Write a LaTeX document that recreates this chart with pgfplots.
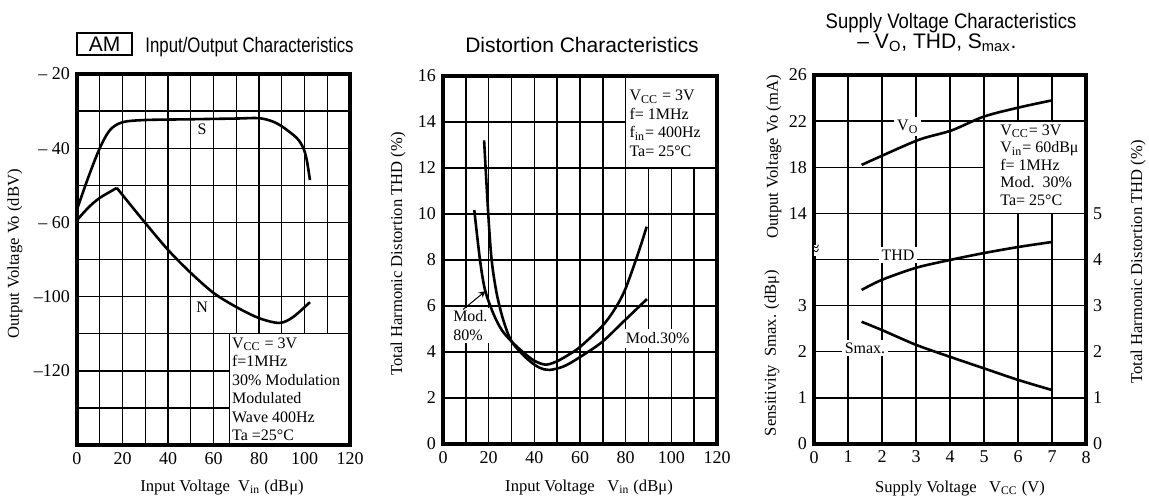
\documentclass[border=0pt]{standalone}
\usepackage{fontspec}
\setmainfont{Liberation Serif}
\setsansfont{Liberation Sans}
\newfontfamily\titlefont[FakeStretch=0.8]{Liberation Sans}
\usepackage{pgfplots}
\pgfplotsset{compat=1.18}

\newcommand\ann{\fontsize{8}{9.25}\selectfont}
\newcommand\lab{\fontsize{8.3}{10}\selectfont}

\pgfplotsset{
  chart/.style={
    scale only axis, anchor=south west,
    grid=major,
    grid style={black, line width=0.7pt},
    axis line style={line width=2pt},
    major tick length=0pt,
    /pgf/number format/assume math mode=true,
    ticklabel style={font=\fontsize{9}{10}\selectfont},
  },
  curve/.style={black, line width=1.3pt, smooth, no markers},
}

\begin{document}
\begin{tikzpicture}
\path[use as bounding box] (0,0) rectangle (574.5pt,-249pt);

% ---------- panel 1: AM input/output
\begin{axis}[chart,
  at={(38.5pt,-222.5pt)}, width=136.5pt, height=185.5pt,
  xmin=0, xmax=120, ymin=-120, ymax=-20,
  xtick={0,10,...,120},
  xticklabels={0,,20,,40,,60,,80,,100,,120},
  ytick={-120,-110,...,-20},
  yticklabels={{},{},{\textendash120},{},{\textendash100},{},{\textendash\ 60},{},{\textendash\ 40},{},{\textendash\ 20}},
]
\addplot[curve] coordinates {
  (0,-56.5) (5,-47.8) (10,-40) (14.5,-35.1) (20,-33) (30,-32.4)
  (50,-32.2) (70,-32) (80,-31.9) (86,-32.8) (90.5,-34.3)
  (96.7,-37.3) (99.5,-40) (101,-43.2) (102.4,-48.6)
};
\addplot[curve] coordinates {
  (0,-59.4) (5,-56) (10,-53.4) (17.5,-50.7)
};
\addplot[curve] coordinates {
  (17.5,-50.7) (29,-59.4) (40,-67.4) (50,-73.6) (60,-79)
  (70,-82.8) (80,-85.8) (89,-87.1) (95,-85.5) (102.4,-81.5)
};
\node[font=\ann] at (axis cs:55,-35) {S};
\node[font=\ann] at (axis cs:55,-82.8) {N};
\draw[fill=white, line width=0.6pt] (axis cs:67,-120) rectangle (axis cs:120,-90);
\node[anchor=north west, align=left, inner sep=0pt, font=\ann] at (axis cs:68,-90.9)
  {V\textsubscript{CC} = 3V\\ f=1MHz\\ 30\% Modulation\\ Modulated\\ Wave 400Hz\\ Ta =25°C};
\draw[line width=2pt] (rel axis cs:0,0) rectangle (rel axis cs:1,1);
\end{axis}

% ---------- panel 2: distortion
\begin{axis}[chart,
  at={(221.5pt,-222pt)}, width=137pt, height=184pt,
  xmin=0, xmax=120, ymin=0, ymax=16,
  xtick={0,10,...,120},
  xticklabels={0,,20,,40,,60,,80,,100,,120},
  ytick={0,2,...,16},
]
% Mod. 80%
\addplot[curve] coordinates {
  (13.7,10.17) (16.2,8.0) (18.4,6.7) (22,5.68) (25.7,4.96) (30.1,4.45)
  (35,4.0) (40,3.62) (45,3.45) (50,3.6) (55,3.88) (60,4.22)
  (69.5,5.1) (75,5.83) (79.7,6.7) (85.5,8.3) (89.2,9.45)
};
% Mod. 30%
\addplot[curve] coordinates {
  (18,13.2) (19.8,10.03) (21.3,8.0) (23.5,6.55) (26.4,5.39) (30.1,4.45)
  (36.7,3.72) (42,3.33) (46.5,3.22) (53,3.38) (60,3.78) (69.6,4.43) (78.8,5.3) (89.3,6.3)
};
\draw[fill=white, line width=0.6pt] (axis cs:80,12) rectangle (axis cs:120,16);
\node[anchor=north west, align=left, inner sep=0pt, font=\ann] at (axis cs:81.5,15.4)
  {V\textsubscript{CC} = 3V\\ f= 1MHz\\ f\textsubscript{in}= 400Hz\\ Ta= 25°C};
\node[fill=white, align=left, inner sep=1.5pt, font=\ann, anchor=north west] at (axis cs:3,5.95)
  {Mod.\\ 80\%};
\draw[-stealth, line width=0.5pt] (axis cs:8.8,5.85) -- (axis cs:18.6,6.65);
\node[fill=white, inner sep=2pt, font=\ann] at (axis cs:94,4.6) {Mod.30\%};
\draw[line width=2pt] (rel axis cs:0,0) rectangle (rel axis cs:1,1);
\end{axis}

% ---------- panel 3: supply voltage
\begin{axis}[chart,
  at={(407pt,-222pt)}, width=136pt, height=184.5pt,
  xmin=0, xmax=8, ymin=0, ymax=8,
  xtick={0,...,8}, ytick={0,...,8},
  yticklabels={0,1,2,3,{},14,18,22,26},
]
% Vo in mA, drawn on the 14..26 scale (14 at grid line 5, 4 mA per line)
\addplot[curve] table[x=x, y expr={5+(\thisrow{vo}-14)/4}] {
x    vo
1.4  18.2
2.0  19.0
3.1  20.4
4.05 21.2
5.0  22.4
6.05 23.2
7.0  23.8
};
% THD (%) on right scale
\addplot[curve] coordinates {
  (1.4,3.34) (2,3.56) (3,3.82) (4,3.99) (5,4.14) (6,4.27) (7,4.38)
};
% Smax (dBmu) on left lower scale
\addplot[curve] coordinates {
  (1.4,2.65) (2,2.47) (3,2.15) (4,1.89) (5,1.64) (6,1.39) (7,1.17)
};
\node[fill=white, inner sep=1.5pt, font=\ann] at (axis cs:2.76,6.88) {V\textsubscript{O}};
\node[fill=white, inner sep=1.5pt, font=\ann] at (axis cs:2.47,4.1) {THD};
\node[fill=white, inner sep=1.5pt, font=\ann] at (axis cs:1.5,2.08) {Smax.};
\draw[fill=white, line width=0.6pt] (axis cs:5,5) rectangle (axis cs:8,7);
\node[anchor=north west, align=left, inner sep=0pt, font=\fontsize{8}{8.75}\selectfont] at (axis cs:5.47,6.93)
  {V\textsubscript{CC}= 3V\\ V\textsubscript{in}= 60dBμ\\ f= 1MHz\\ Mod.\ \ 30\%\\ Ta= 25°C};
\draw[line width=2pt] (rel axis cs:0,0) rectangle (rel axis cs:1,1);
\node[fill=white, inner sep=0.3pt, font=\fontsize{10}{10}\selectfont] at (axis cs:0,4.2) {≈};
\end{axis}
\begin{axis}[
  scale only axis, anchor=south west,
  at={(407pt,-222pt)}, width=136pt, height=184.5pt,
  xmin=0, xmax=8, ymin=0, ymax=8,
  axis x line=none, axis y line*=right,
  axis line style={line width=2pt},
  ytick={0,...,5}, major tick length=0pt,
  /pgf/number format/assume math mode=true,
  ticklabel style={font=\fontsize{9}{10}\selectfont},
]
\end{axis}

% ---------- titles and axis labels (1 unit = one reference pixel)
\begin{scope}[x=0.5pt, y=-0.5pt]
\node[draw, line width=0.6pt, minimum width=27.5pt, minimum height=11pt, inner sep=0pt,
  font=\sffamily\fontsize{10.5}{12}\selectfont] at (104.5,44) {AM};
\node[anchor=base west, inner sep=0pt, font=\titlefont\fontsize{10.5}{12}\selectfont] at (145,52) {Input/Output Characteristics};
\node[anchor=base, font=\sffamily\fontsize{10.5}{12}\selectfont] at (582,52) {Distortion Characteristics};
\node[anchor=base, font=\sffamily\fontsize{10.5}{12}\selectfont] at (951,28) {\addfontfeatures{FakeStretch=0.88}Supply Voltage Characteristics};
\node[anchor=base, font=\sffamily\fontsize{10.5}{12}\selectfont] at (937,48) {\textendash\ V\textsubscript{O}, THD, S\textsubscript{max}.};

\node[anchor=base, font=\lab] at (222,491) {Input Voltage\ \ V\textsubscript{in} (dBμ)};
\node[anchor=base, font=\lab] at (589,491) {Input Voltage\ \ \ V\textsubscript{in} (dBμ)};
\node[anchor=base, font=\lab] at (960,492) {Supply Voltage\ \ \ V\textsubscript{CC} (V)};

\node[rotate=90, font=\lab] at (15,254) {Output Voltage Vo (dBV)};
\node[rotate=90, font=\lab] at (398,254) {Total Harmonic Distortion THD (\%)};
\node[rotate=90, font=\lab] at (774,157) {Output Voltage Vo (mA)};
\node[rotate=90, font=\lab] at (772,353) {Sensitivity\ \ Smax. (dBμ)};
\node[rotate=90, font=\lab] at (1138,262) {Total Harmonic Distortion THD (\%)};
\end{scope}
\end{tikzpicture}
\end{document}
